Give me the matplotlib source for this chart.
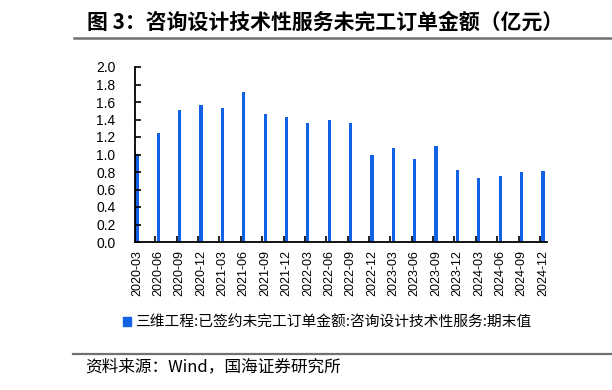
import matplotlib
matplotlib.use("Agg")
import matplotlib.pyplot as plt
from matplotlib.lines import Line2D
from matplotlib.patches import Patch
import numpy as np

plt.rcParams['font.family'] = ['Noto Sans CJK SC', 'DejaVu Sans']

# quarter-end dates and order backlog values (100 million yuan)
quarters = ["2020-03", "2020-06", "2020-09", "2020-12",
            "2021-03", "2021-06", "2021-09", "2021-12",
            "2022-03", "2022-06", "2022-09", "2022-12",
            "2023-03", "2023-06", "2023-09", "2023-12",
            "2024-03", "2024-06", "2024-09", "2024-12"]
backlog = [1.01, 1.25, 1.51, 1.57, 1.53, 1.71, 1.46, 1.43, 1.36, 1.39,
           1.36, 0.99, 1.07, 0.95, 1.10, 0.82, 0.73, 0.76, 0.80, 0.81]
y_ticks = [0.0, 0.2, 0.4, 0.6, 0.8, 1.0, 1.2, 1.4, 1.6, 1.8, 2.0]

title = "图 3：咨询设计技术性服务未完工订单金额（亿元）"
series_name = "三维工程:已签约未完工订单金额:咨询设计技术性服务:期末值"
source = "资料来源：Wind，国海证券研究所"

blue = "#1462E4"

fig = plt.figure(figsize=(6.12, 3.9), dpi=100)
ax = fig.add_axes([135/612, 1-242/390, (547-135)/612, (242-67)/390])

x = np.arange(len(quarters))
ax.bar(x, backlog, width=0.15, color=blue)

ax.set_xlim(-0.09, len(quarters) - 0.81)
ax.set_ylim(0, 2.0)
ax.set_yticks(y_ticks)
ax.set_yticklabels(["%.1f" % v for v in y_ticks], fontsize=10, family="Liberation Sans")
ax.set_xticks(x)
ax.set_xticklabels(quarters, rotation=90, fontsize=9, family="Liberation Sans")
ax.set_xticks(x[1:] - 0.14, minor=True)
ax.tick_params(axis='x', which='major', length=0, pad=6)
ax.tick_params(axis='x', which='minor', direction='in', length=4, width=1.2)
ax.tick_params(axis='y', direction='in', length=4, width=1.2, pad=14)

for s in ["top", "right"]:
    ax.spines[s].set_visible(False)
for s in ["left", "bottom"]:
    ax.spines[s].set_linewidth(1.3)
    ax.spines[s].set_color("black")

fig.legend(handles=[Patch(color=blue, label=series_name)],
           loc="center left", bbox_to_anchor=(123/612, 1-323/390),
           frameon=False, fontsize=10.6, handlelength=0.55, handleheight=0.55,
           handletextpad=0.3, borderaxespad=0, borderpad=0)

fig.text(87/612, 1-22/390, title, fontsize=15, fontweight="bold", va="center", ha="left")
fig.text(85/612, 1-367/390, source, fontsize=12, va="center", ha="left")

fig.add_artist(Line2D([74/612, 1], [1-38/390, 1-38/390], color="#707070", lw=1.8))
fig.add_artist(Line2D([73/612, 1], [1-354/390, 1-354/390], color="#707070", lw=1.6))

fig.savefig("out.png", dpi=100)
